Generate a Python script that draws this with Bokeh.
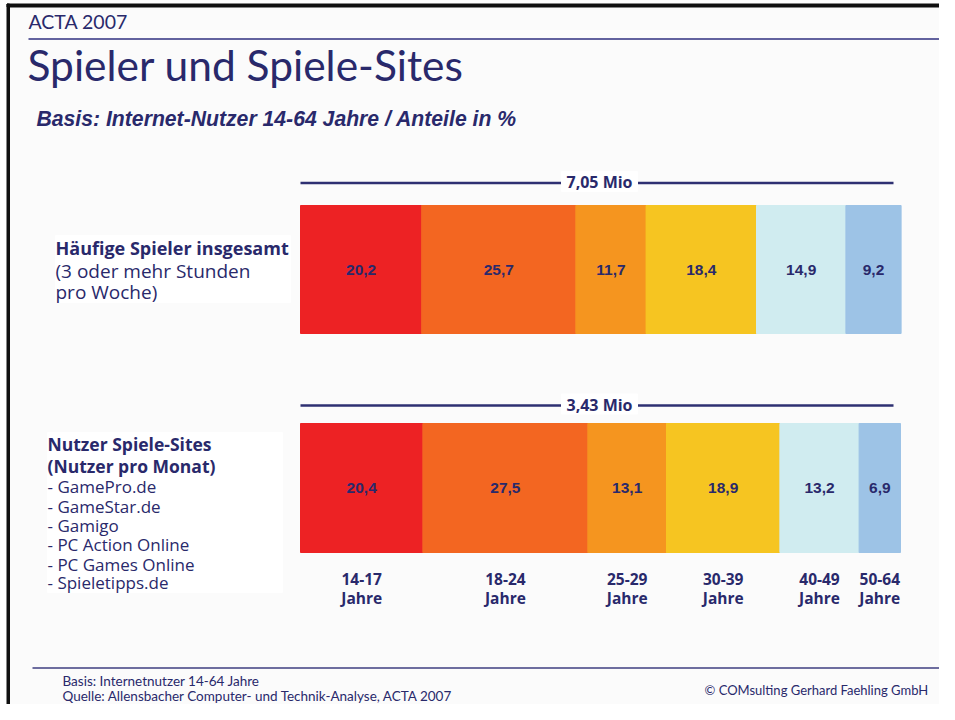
from bokeh.plotting import figure
from bokeh.models import Range1d, ColumnDataSource
from bokeh.core.properties import value
from bokeh.embed import file_html
from bokeh.resources import INLINE

# ---------------- data ----------------
ages = ["14-17", "18-24", "25-29", "30-39", "40-49", "50-64"]
age_unit = "Jahre"
spieler = [20.2, 25.7, 11.7, 18.4, 14.9, 9.2]     # Häufige Spieler insgesamt
sites = [20.4, 27.5, 13.1, 18.9, 13.2, 6.9]       # Nutzer Spiele-Sites
totals = ["7,05 Mio", "3,43 Mio"]
colors = ["#ED2224", "#F36621", "#F5951F", "#F6C521", "#D0ECF0", "#9DC3E6"]

header = "ACTA 2007"
title = "Spieler und Spiele-Sites"
subtitle = "Basis: Internet-Nutzer 14-64 Jahre / Anteile in %"
label1_bold = ["Häufige Spieler insgesamt"]
label1_norm = ["(3 oder mehr Stunden", "pro Woche)"]
label2_bold = ["Nutzer Spiele-Sites", "(Nutzer pro Monat)"]
label2_norm = ["- GamePro.de", "- GameStar.de", "- Gamigo", "- PC Action Online",
               "- PC Games Online", "- Spieletipps.de"]
footer1 = "Basis: Internetnutzer 14-64 Jahre"
footer2 = "Quelle: Allensbacher Computer- und Technik-Analyse, ACTA 2007"
copyright_txt = "© COMsulting Gerhard Faehling GmbH"

NAVY = "#29296B"
BG = "#FBFBFB"

# x axis: percent of the bar (0..100); y axis: page rows, top-down
X0PIX, PIX_PER_PCT = 300.0, 6.0
W, H = 939, 704


def px(xpix):
    return (xpix - X0PIX) / PIX_PER_PCT


p = figure(width=W, height=H, output_backend="svg", toolbar_location=None,
           x_range=Range1d(px(0), px(W)), y_range=Range1d(H, 0),
           min_border=0)
p.axis.visible = False
p.grid.visible = False
p.outline_line_color = None
p.background_fill_color = BG
p.border_fill_color = BG


def txt(x, y, t, size, font="Open Sans", style="normal", align="left"):
    p.text(x=x, y=y, text=t, text_font=value(font), text_font_size=size,
           text_font_style=style, text_color=NAVY, text_align=align,
           text_baseline="middle")


# frame
p.quad(left=px(0), right=px(W), top=0, bottom=3.5, color="#FFFFFF")
p.quad(left=px(0), right=px(6.5), top=0, bottom=H, color="#FFFFFF")
p.quad(left=px(6.5), right=px(9), top=3.5, bottom=H, color="#111111")
p.quad(left=px(6.5), right=px(W), top=3.5, bottom=6.5, color="#111111")

# header
txt([px(28)], [21], [header], "19.5px", font="Lato")
p.segment(x0=[px(28)], y0=[38.5], x1=[px(W)], y1=[38.5], line_color="#62629E", line_width=2)
txt([px(27)], [64], [title], "42.5px", font="Lato")
txt([px(36)], [118], [subtitle], "21.2px", font="Liberation Sans", style="bold italic")

# bars
rows = [(spieler, 269, 128, totals[0], 182.5, 181), (sites, 487.5, 129, totals[1], 405, 404)]
for vals, yc, h, tot, yline, ytxt in rows:
    lefts, rights, cs = [], [], 0.0
    for v in vals:
        lefts.append(cs)
        cs += v
        rights.append(cs)
    src = ColumnDataSource(dict(y=[yc] * len(vals), left=lefts, right=rights, color=colors,
                                xm=[(a + b) / 2 for a, b in zip(lefts, rights)],
                                lab=[f"{v:.1f}".replace(".", ",") for v in vals]))
    p.hbar(y="y", left="left", right="right", height=h, color="color", source=src)
    p.text(x="xm", y="y", text="lab", source=src, text_font=value("Liberation Sans"),
           text_font_size="15.5px", text_font_style="bold", text_color=NAVY,
           text_align="center", text_baseline="middle")
    # total bracket
    p.segment(x0=[0], y0=[yline], x1=[px(893)], y1=[yline], line_color="#2E3072", line_width=2.5)
    p.quad(left=px(561), right=px(637), top=yline - 11.5, bottom=yline + 8.5, color="#FFFFFF")
    txt([px(599)], [ytxt], [tot], "16px", style="bold", align="center")

# age labels under the lower bar
cs = 0.0
mids = []
for v in sites:
    mids.append(cs + v / 2)
    cs += v
txt(mids, [578] * len(ages), ages, "15.5px", style="bold", align="center")
txt(mids, [597] * len(ages), [age_unit] * len(ages), "15.5px", style="bold", align="center")

# left labels
p.quad(left=px(55), right=px(290), top=235, bottom=302, color="#FFFFFF")
txt([px(55)], [247.5], label1_bold, "18px", style="bold")
txt([px(55)] * 2, [270, 291.5], label1_norm, "19px")

p.quad(left=px(47), right=px(282), top=432, bottom=592, color="#FFFFFF")
txt([px(47)] * 2, [443.5, 465], label2_bold, "17.5px", style="bold")
txt([px(47)] * 6, [486, 505.5, 525, 544, 563.5, 582], label2_norm, "17px")

# footer (kept inside the canvas)
p.segment(x0=[px(32)], y0=[667.5], x1=[px(W)], y1=[667.5], line_color="#3E3E80", line_width=1.5)
txt([px(62)], [680], [footer1], "13.5px", font="Lato")
txt([px(62)], [695], [footer2], "13.5px", font="Lato")
txt([px(704)], [689], [copyright_txt], "13px", font="Lato")

open("out.html", "w").write(file_html(p, INLINE))
